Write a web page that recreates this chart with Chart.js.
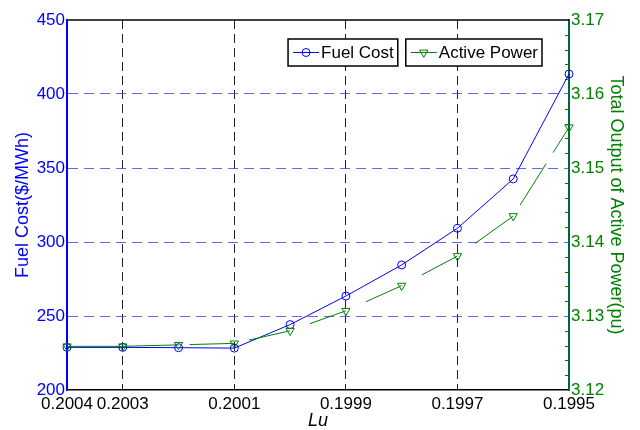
<!DOCTYPE html>
<html>
<head>
<meta charset="utf-8">
<script src="https://cdn.jsdelivr.net/npm/chart.js@4.4.1/dist/chart.umd.min.js"></script>
<style>
  html, body { margin: 0; padding: 0; background: #ffffff; }
  canvas { display: block; }
</style>
</head>
<body>
<canvas id="chart" width="640" height="430"></canvas>
<script>
// Lu sweep and the two responses
const luValues = [0.2004, 0.2003, 0.2002, 0.2001, 0.2000, 0.1999, 0.1998, 0.1997, 0.1996, 0.1995];
const fuelCost = [228.8, 228.8, 228.6, 228.3, 244.2, 263.5, 284.5, 309.3, 342.6, 413.5];
const activePower = [3.1259, 3.1259, 3.1261, 3.1263, 3.1280, 3.1307, 3.1341, 3.1381, 3.1435, 3.1555];

// axis ticks
const luTicks = [0.2004, 0.2003, 0.2001, 0.1999, 0.1997, 0.1995];
const costTicks = [200, 250, 300, 350, 400, 450];
const powerTicks = [3.12, 3.13, 3.14, 3.15, 3.16, 3.17];

const seriesLabels = ['Fuel Cost', 'Active Power'];

// dash pattern of each Active Power segment (the stroke starts a little after the marker)
const powerSegmentDash = [
  [], [], [0, 11, 1000, 0], [0, 15, 1000, 0], [0, 21, 1000, 0],
  [0, 22, 1000, 0], [0, 23, 1000, 0], [0, 22, 1000, 0], [0, 13, 49, 13, 1000, 0]
];

const BLUE = '#0000ff';
const GREEN = '#008000';
const GRID_BLUE = 'rgba(70,70,255,0.85)';
const GRID_BLACK = '#222222';
const FONT = '"Liberation Sans", Arial, Helvetica, sans-serif';

Chart.defaults.font.family = FONT;

const edgeTransparent = (count, color) => (ctx) =>
  (ctx.index === 0 || ctx.index === count - 1) ? 'rgba(0,0,0,0)' : color;

// top edge of the box and the small inner ticks on the right axis
const framePlugin = {
  id: 'frame',
  beforeDatasetsDraw(chart) {
    const { ctx, chartArea: a } = chart;
    ctx.save();
    ctx.strokeStyle = '#000000';
    ctx.lineWidth = 1.5;
    ctx.beginPath();
    ctx.moveTo(a.left, a.top);
    ctx.lineTo(a.right, a.top);
    ctx.stroke();

    const s = chart.scales.yPower;
    ctx.strokeStyle = GREEN;
    ctx.lineWidth = 1;
    for (let i = 0; i < powerTicks.length - 1; i++) {
      for (let k = 1; k < 5; k++) {
        const v = powerTicks[i] + (powerTicks[i + 1] - powerTicks[i]) * k / 5;
        const y = Math.round(s.getPixelForValue(v)) + 0.5;
        ctx.beginPath();
        ctx.moveTo(a.right, y);
        ctx.lineTo(a.right - 4, y);
        ctx.stroke();
      }
    }
    ctx.restore();
  }
};

// one boxed legend entry per series, side by side in the upper right
const boxLegend = {
  id: 'boxLegend',
  afterDraw(chart) {
    const { ctx, chartArea: a } = chart;
    const ds = chart.data.datasets;
    ctx.save();
    ctx.font = '17px ' + FONT;
    ctx.textBaseline = 'middle';
    const top = a.top + 19, h = 27, lineLen = 26, gap = 8;
    const widths = ds.map(d => 5 + lineLen + 2 + ctx.measureText(d.label).width + 4);
    let x = a.right - 27 - widths.reduce((s, w) => s + w, 0) - gap * (ds.length - 1);
    ds.forEach((d, i) => {
      const w = widths[i];
      const cy = top + h / 2;
      ctx.fillStyle = '#ffffff';
      ctx.fillRect(x, top, w, h);
      ctx.strokeStyle = '#000000';
      ctx.lineWidth = 1.5;
      ctx.strokeRect(x, top, w, h);

      ctx.strokeStyle = d.borderColor;
      ctx.lineWidth = 1;
      ctx.beginPath();
      ctx.moveTo(x + 5, cy);
      ctx.lineTo(x + 5 + lineLen, cy);
      ctx.stroke();

      const mx = x + 5 + lineLen / 2;
      const r = d.pointRadius;
      ctx.beginPath();
      if (d.pointStyle === 'circle') {
        ctx.arc(mx, cy, r, 0, Math.PI * 2);
      } else {
        const s60 = Math.sin(Math.PI / 3);
        ctx.moveTo(mx, cy + r);
        ctx.lineTo(mx - r * s60, cy - r / 2);
        ctx.lineTo(mx + r * s60, cy - r / 2);
        ctx.closePath();
      }
      ctx.stroke();

      ctx.fillStyle = '#000000';
      ctx.fillText(d.label, x + 5 + lineLen + 2, cy + 1);
      x += w + gap;
    });
    ctx.restore();
  }
};

new Chart(document.getElementById('chart'), {
  type: 'line',
  data: {
    datasets: [
      {
        label: seriesLabels[0],
        data: luValues.map((x, i) => ({ x, y: fuelCost[i] })),
        yAxisID: 'yCost',
        borderColor: BLUE,
        borderWidth: 1,
        pointStyle: 'circle',
        pointRadius: 4,
        pointBorderWidth: 1,
        pointBorderColor: BLUE,
        pointBackgroundColor: 'rgba(0,0,0,0)',
        fill: false,
        tension: 0,
        clip: false,
        order: 1
      },
      {
        label: seriesLabels[1],
        data: luValues.map((x, i) => ({ x, y: activePower[i] })),
        yAxisID: 'yPower',
        borderColor: GREEN,
        borderWidth: 1,
        pointStyle: 'triangle',
        pointRotation: 180,
        pointRadius: 4.8,
        pointBorderWidth: 1,
        pointBorderColor: GREEN,
        pointBackgroundColor: 'rgba(0,0,0,0)',
        fill: false,
        tension: 0,
        clip: false,
        order: 0,
        segment: {
          borderDash: (ctx) => powerSegmentDash[ctx.p0DataIndex]
        }
      }
    ]
  },
  options: {
    responsive: false,
    animation: false,
    devicePixelRatio: 1,
    layout: { padding: { top: 20, left: 0, right: 0, bottom: 0 } },
    plugins: {
      legend: { display: false },
      tooltip: { enabled: false }
    },
    scales: {
      x: {
        type: 'linear',
        position: 'bottom',
        reverse: true,
        min: 0.1995,
        max: 0.2004,
        afterBuildTicks: (s) => { s.ticks = luTicks.map(v => ({ value: v })); },
        afterFit: (s) => { s.height = 40; },
        ticks: {
          autoSkip: false,
          maxRotation: 0,
          color: '#000000',
          font: { size: 17 },
          padding: 4,
          callback: (v) => Number(v).toFixed(4)
        },
        grid: {
          color: edgeTransparent(luTicks.length, GRID_BLACK),
          lineWidth: 1,
          drawTicks: false
        },
        border: { display: true, color: '#000000', width: 1.5, dash: [9, 5] },
        title: {
          display: true,
          text: 'Lu',
          color: '#000000',
          font: { size: 18, style: 'italic', lineHeight: 1.0 },
          padding: { top: 0, bottom: 0 }
        }
      },
      yCost: {
        type: 'linear',
        position: 'left',
        min: 200,
        max: 450,
        afterBuildTicks: (s) => { s.ticks = costTicks.map(v => ({ value: v })); },
        afterFit: (s) => { s.width = 67; },
        ticks: {
          color: BLUE,
          font: { size: 17 },
          padding: 2,
          callback: (v) => String(v)
        },
        grid: {
          color: edgeTransparent(costTicks.length, GRID_BLUE),
          lineWidth: 1,
          drawTicks: false
        },
        border: { display: true, color: BLUE, width: 2, dash: [10, 6] },
        title: {
          display: true,
          text: 'Fuel Cost($/MWh)',
          color: BLUE,
          font: { size: 18 },
          padding: { top: 12.7, bottom: 0 }
        }
      },
      yPower: {
        type: 'linear',
        position: 'right',
        min: 3.12,
        max: 3.17,
        afterBuildTicks: (s) => { s.ticks = powerTicks.map(v => ({ value: v })); },
        afterFit: (s) => { s.width = 71; },
        ticks: {
          color: GREEN,
          font: { size: 17 },
          padding: 2,
          callback: (v) => Number(v).toFixed(2)
        },
        grid: { display: false, drawTicks: false },
        border: { display: true, color: 'rgb(0,100,60)', width: 2 },
        title: {
          display: true,
          text: 'Total Output of Active Power(pu)',
          color: GREEN,
          font: { size: 18 },
          padding: { top: 13.2, bottom: 0 }
        }
      }
    }
  },
  plugins: [framePlugin, boxLegend]
});
</script>
</body>
</html>
